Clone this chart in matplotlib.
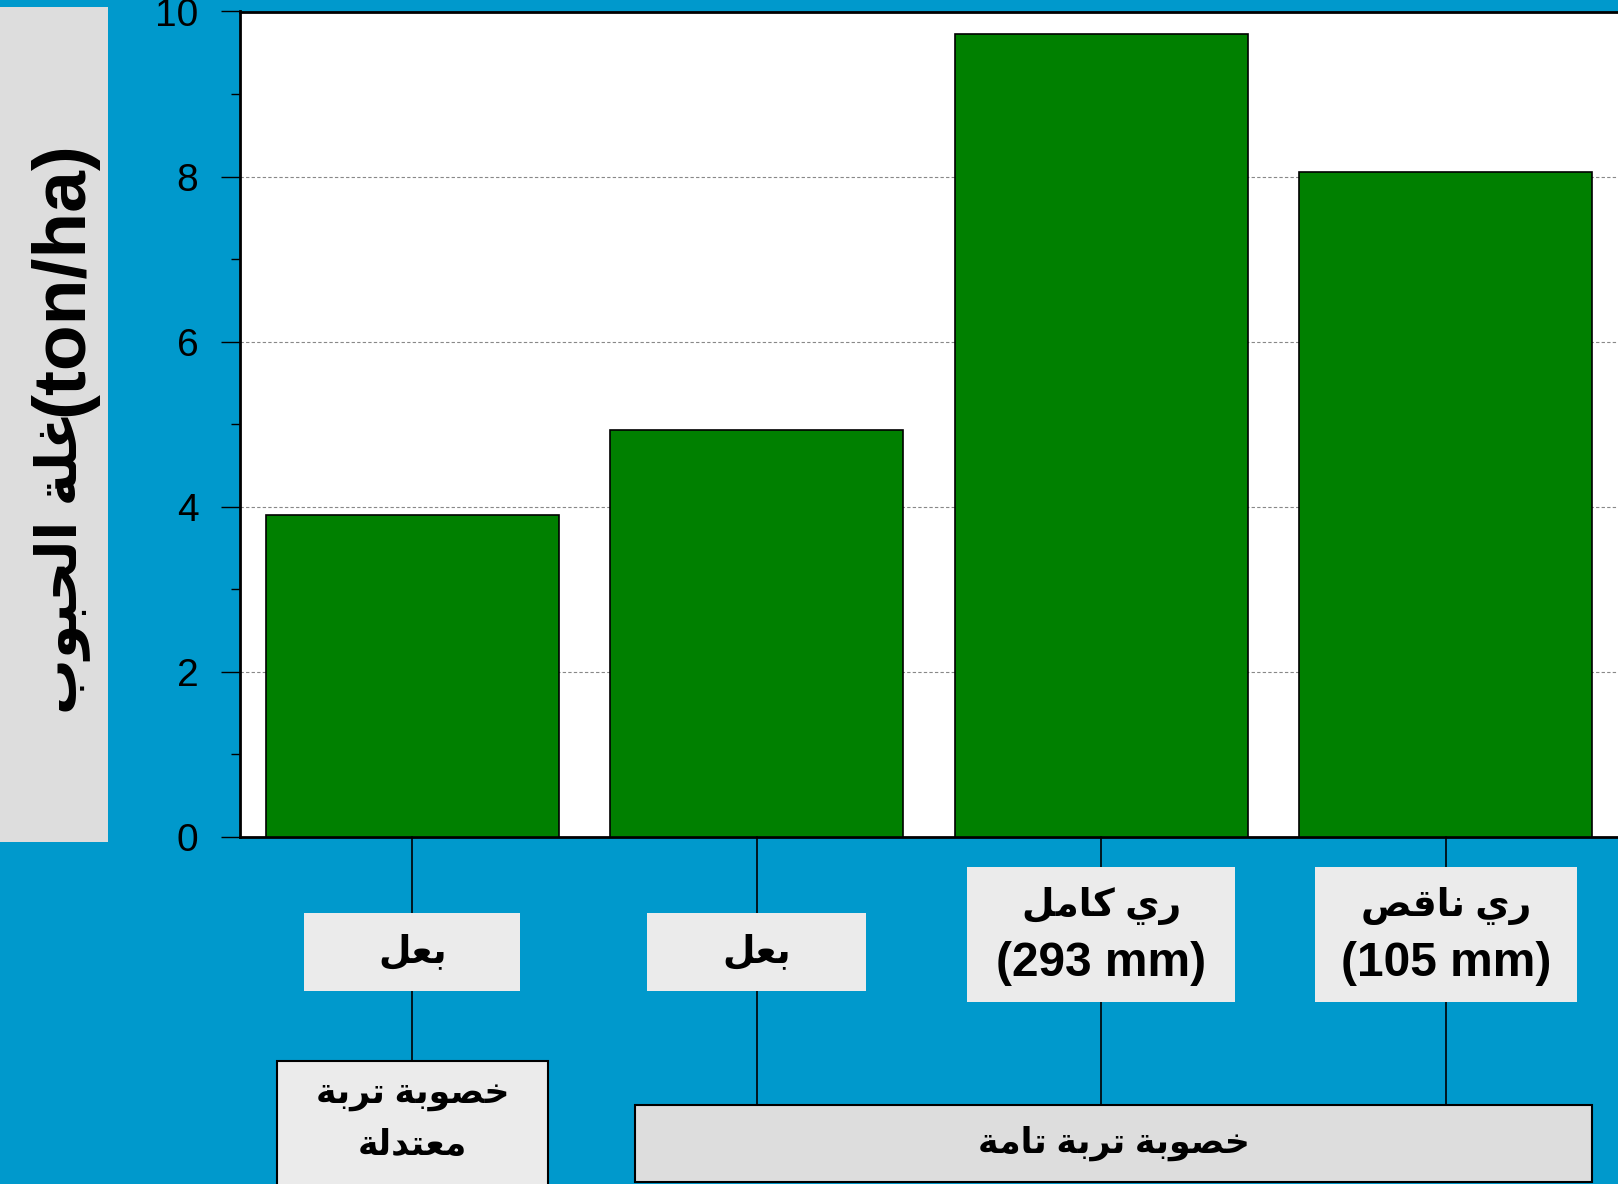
import matplotlib
matplotlib.use("Agg")
import matplotlib.pyplot as plt
from matplotlib.lines import Line2D
from matplotlib.patches import Rectangle
from matplotlib.transforms import blended_transform_factory

# grain yield per treatment (ton/ha)
yields = [3.9, 4.93, 9.73, 8.06]
water_labels = ["بعل", "بعل", "ري كامل\n(293 mm)", "ري ناقص\n(105 mm)"]
fertility_labels = ["خصوبة تربة\nمعتدلة", "خصوبة تربة تامة"]
fertility_span = [(0, 0), (1, 3)]  # first and last bar under each fertility level
y_label_ar = "غلة الحبوب"
y_label_unit = "(ton/ha)"
y_ticks = [0, 2, 4, 6, 8, 10]
y_minor = [1, 3, 5, 7, 9]

plt.rcParams["font.family"] = ["Liberation Sans", "DejaVu Sans"]

# Arabic presentation forms: (isolated, final[, initial, medial])
FORMS = {
    "ا": (0xFE8D, 0xFE8E),
    "ب": (0xFE8F, 0xFE90, 0xFE91, 0xFE92),
    "ة": (0xFE93, 0xFE94),
    "ت": (0xFE95, 0xFE96, 0xFE97, 0xFE98),
    "ح": (0xFEA1, 0xFEA2, 0xFEA3, 0xFEA4),
    "خ": (0xFEA5, 0xFEA6, 0xFEA7, 0xFEA8),
    "د": (0xFEA9, 0xFEAA),
    "ر": (0xFEAD, 0xFEAE),
    "ص": (0xFEB9, 0xFEBA, 0xFEBB, 0xFEBC),
    "ع": (0xFEC9, 0xFECA, 0xFECB, 0xFECC),
    "غ": (0xFECD, 0xFECE, 0xFECF, 0xFED0),
    "ق": (0xFED5, 0xFED6, 0xFED7, 0xFED8),
    "ك": (0xFED9, 0xFEDA, 0xFEDB, 0xFEDC),
    "ل": (0xFEDD, 0xFEDE, 0xFEDF, 0xFEE0),
    "م": (0xFEE1, 0xFEE2, 0xFEE3, 0xFEE4),
    "ن": (0xFEE5, 0xFEE6, 0xFEE7, 0xFEE8),
    "و": (0xFEED, 0xFEEE),
    "ي": (0xFEF1, 0xFEF2, 0xFEF3, 0xFEF4),
}


def is_arabic(line):
    return any(ch in FORMS for ch in line)


def shape_line(line):
    # matplotlib has no bidi/shaping, so join letters and lay them out right-to-left
    if not is_arabic(line):
        return line
    out = []
    for i, ch in enumerate(line):
        f = FORMS.get(ch)
        if f is None:
            out.append(ch)
            continue
        prev = line[i - 1] if i > 0 else ""
        nxt = line[i + 1] if i + 1 < len(line) else ""
        j_prev = prev in FORMS and len(FORMS[prev]) == 4
        j_next = nxt in FORMS and len(f) == 4
        if j_prev and j_next:
            c = f[3]
        elif j_prev:
            c = f[1]
        elif j_next:
            c = f[2]
        else:
            c = f[0]
        out.append(chr(c))
    return "".join(reversed(out))


W, H = 1618, 1184
BG = "#0099cc"


def fy(px):
    return 1 - px / H


fig = plt.figure(figsize=(W / 100, H / 100), dpi=100, facecolor=BG)
ax = fig.add_axes([240 / W, fy(837), 1 - 240 / W, (837 - 11.5) / H])

x = list(range(len(yields)))
ax.bar(x, yields, width=0.85, color="#008000", edgecolor="black", linewidth=1.2, zorder=3)
ax.set_xlim(-0.5, 3.5)
ax.set_ylim(0, 10)
ax.set_yticks(y_ticks)
ax.set_yticks(y_minor, minor=True)
ax.yaxis.grid(True, which="major", color="#888888", linestyle=(0, (3, 2)), linewidth=0.8)
ax.set_axisbelow(True)
ax.tick_params(axis="y", which="major", length=14, width=1, pad=16, labelsize=28)
ax.tick_params(axis="y", which="minor", length=6.5, width=1)
ax.tick_params(axis="x", length=0, labelbottom=False)
for side in ("left", "bottom", "top"):
    ax.spines[side].set_linewidth(2)
ax.spines["right"].set_visible(False)

# y-axis title on its grey panel (Arabic words and unit set separately)
fig.add_artist(Rectangle((0, fy(842)), 108 / W, (842 - 7) / H, transform=fig.transFigure,
                         facecolor="#dddddd", edgecolor="none", zorder=1))
fig.text(62 / W, fy(562), shape_line(y_label_ar), rotation=90, ha="center", va="center",
         fontsize=40, fontweight="bold", zorder=2)
fig.text(63 / W, fy(279), y_label_unit, rotation=90, ha="center", va="center",
         fontsize=54, fontweight="bold", zorder=2)

# two-level category axis below the plot
trans = blended_transform_factory(ax.transData, fig.transFigure)


def put_lines(xc, yc, text, step, ar_size, latin_size=34.5):
    lines = text.split("\n")
    n = len(lines)
    for k, line in enumerate(lines):
        size = ar_size if is_arabic(line) else latin_size
        fig.text(xc, fy(yc + (k - (n - 1) / 2) * step), shape_line(line), transform=trans,
                 ha="center", va="center", fontsize=size, fontweight="bold", zorder=3)


lvl1_w = [0.627, 0.636, 0.778, 0.76]
lvl1_box = [(913, 991), (913, 991), (867, 1002), (867, 1002)]
lvl2_box = [(1061, 1190, 0.787, "#ebebeb"), (1105, 1182, None, "#dddddd")]

for g, (first, last) in enumerate(fertility_span):
    top = lvl2_box[g][0]
    for i in range(first, last + 1):
        fig.add_artist(Line2D([i, i], [fy(837), fy(top)], transform=trans,
                              color="black", linewidth=1.2, zorder=1))

for i, lab in enumerate(water_labels):
    t, b = lvl1_box[i]
    w = lvl1_w[i]
    fig.add_artist(Rectangle((i - w / 2, fy(b)), w, (b - t) / H, transform=trans,
                             facecolor="#ebebeb", edgecolor="none", zorder=2))
    put_lines(i, (t + b) / 2, lab, 57, ar_size=27)

for g, (first, last) in enumerate(fertility_span):
    t, b, w, fc = lvl2_box[g]
    if w is None:
        x0, x1 = first - 0.353, last + 0.425
    else:
        x0, x1 = first - w / 2, first + w / 2
    fig.add_artist(Rectangle((x0, fy(b)), x1 - x0, (b - t) / H, transform=trans,
                             facecolor=fc, edgecolor="black", linewidth=1.5, zorder=2))
    yc = t + 59 if g == 0 else (t + b) / 2
    put_lines((x0 + x1) / 2, yc, fertility_labels[g], 51, ar_size=25)

fig.savefig("out.png", dpi=100, facecolor=BG)
